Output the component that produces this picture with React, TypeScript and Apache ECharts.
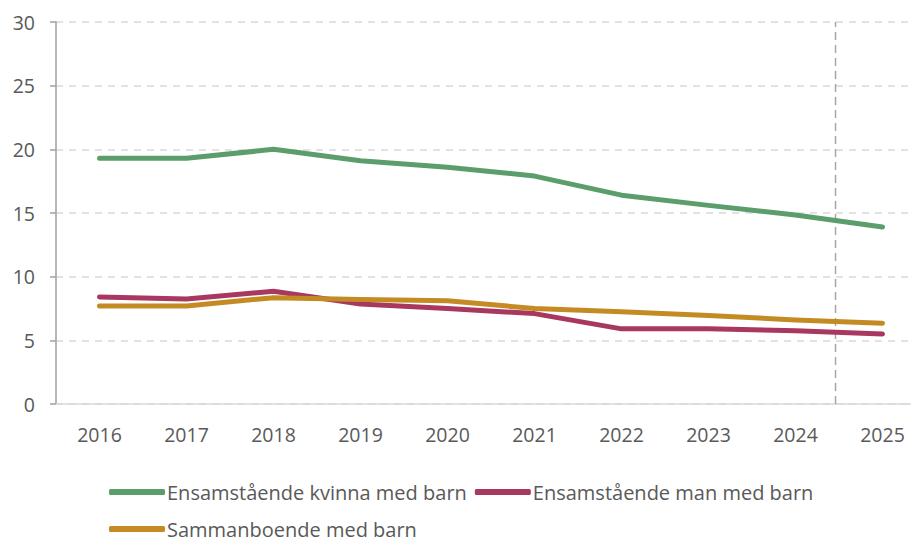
import React, { useEffect, useRef } from "react";
import * as echarts from "echarts";

const years = ["2016", "2017", "2018", "2019", "2020", "2021", "2022", "2023", "2024", "2025"];
const kvinnaMedBarn = [19.3, 19.3, 20.0, 19.1, 18.6, 17.9, 16.4, 15.6, 14.85, 13.9];
const manMedBarn = [8.4, 8.25, 8.85, 7.85, 7.5, 7.1, 5.9, 5.9, 5.75, 5.5];
const sammanboendeMedBarn = [7.7, 7.7, 8.35, 8.2, 8.1, 7.5, 7.25, 6.95, 6.6, 6.35];
const seriesNames = [
  "Ensamstående kvinna med barn",
  "Ensamstående man med barn",
  "Sammanboende med barn",
];
const dividerPoints = [
  [8.46, 0],
  [8.46, 30],
];

const FONT = "'Open Sans', 'Noto Sans', sans-serif";
const TEXT = "#595959";

export default function App() {
  const ref = useRef<HTMLDivElement>(null);
  useEffect(() => {
    document.body.style.margin = "0";
    document.body.style.overflow = "hidden";
    const chart = echarts.init(ref.current!, undefined, { renderer: "svg" });
    const lineSeries = (name: string, data: number[], color: string) => ({
      name,
      type: "line",
      data,
      xAxisIndex: 0,
      yAxisIndex: 0,
      showSymbol: false,
      symbol: "none",
      lineStyle: { color, width: 5, cap: "round", join: "round" },
      itemStyle: { color },
      z: 3,
    });
    chart.setOption({
      animation: false,
      textStyle: { fontFamily: FONT },
      grid: { left: 56, top: 22, bottom: 138, right: 4, containLabel: false },
      xAxis: [
        {
          type: "category",
          data: years,
          boundaryGap: true,
          axisLine: { show: true, onZero: false, lineStyle: { color: "#d9d9d9", width: 1.5 } },
          axisTick: { show: false },
          axisLabel: { color: TEXT, fontSize: 19.5, margin: 20, fontFamily: FONT },
          splitLine: { show: false },
        },
        {
          type: "value",
          min: -0.5,
          max: 9.5,
          show: false,
        },
      ],
      yAxis: {
        type: "value",
        min: 0,
        max: 30,
        interval: 5,
        axisLine: { show: true, onZero: false, lineStyle: { color: "#a0a0a0", width: 1.5 } },
        axisTick: { show: true, length: 6, lineStyle: { color: "#a0a0a0", width: 1.5 } },
        axisLabel: { color: TEXT, fontSize: 19.5, margin: 21, fontFamily: FONT },
        splitLine: {
          show: true,
          lineStyle: { color: "#d9d9d9", type: [7, 6], width: 1.5 },
        },
      },
      legend: [
        {
          data: seriesNames.slice(0, 2),
          left: 104,
          top: 477,
          icon: "roundRect",
          itemWidth: 56,
          itemHeight: 6,
          itemGap: 8,
          textStyle: { color: TEXT, fontSize: 20, fontFamily: FONT, padding: [0, 0, 0, -3] },
        },
        {
          data: seriesNames.slice(2),
          left: 104,
          top: 514,
          icon: "roundRect",
          itemWidth: 56,
          itemHeight: 6,
          textStyle: {
            color: TEXT,
            fontSize: 20,
            lineHeight: 20,
            fontFamily: FONT,
            padding: [0, 0, 0, -3],
          },
        },
      ],
      series: [
        lineSeries(seriesNames[0], kvinnaMedBarn, "#5b9e6b"),
        lineSeries(seriesNames[1], manMedBarn, "#a8385f"),
        lineSeries(seriesNames[2], sammanboendeMedBarn, "#c48b25"),
        {
          name: "divider",
          type: "line",
          xAxisIndex: 1,
          yAxisIndex: 0,
          data: dividerPoints,
          symbol: "none",
          silent: true,
          lineStyle: { color: "#a6a6a6", width: 1.5, type: [8, 5] },
          z: 1,
        },
      ],
    });
    return () => chart.dispose();
  }, []);
  return (
    <div style={{ width: 911, height: 542, overflow: "hidden" }}>
      <div ref={ref} style={{ width: 930, height: 542 }} />
    </div>
  );
}
